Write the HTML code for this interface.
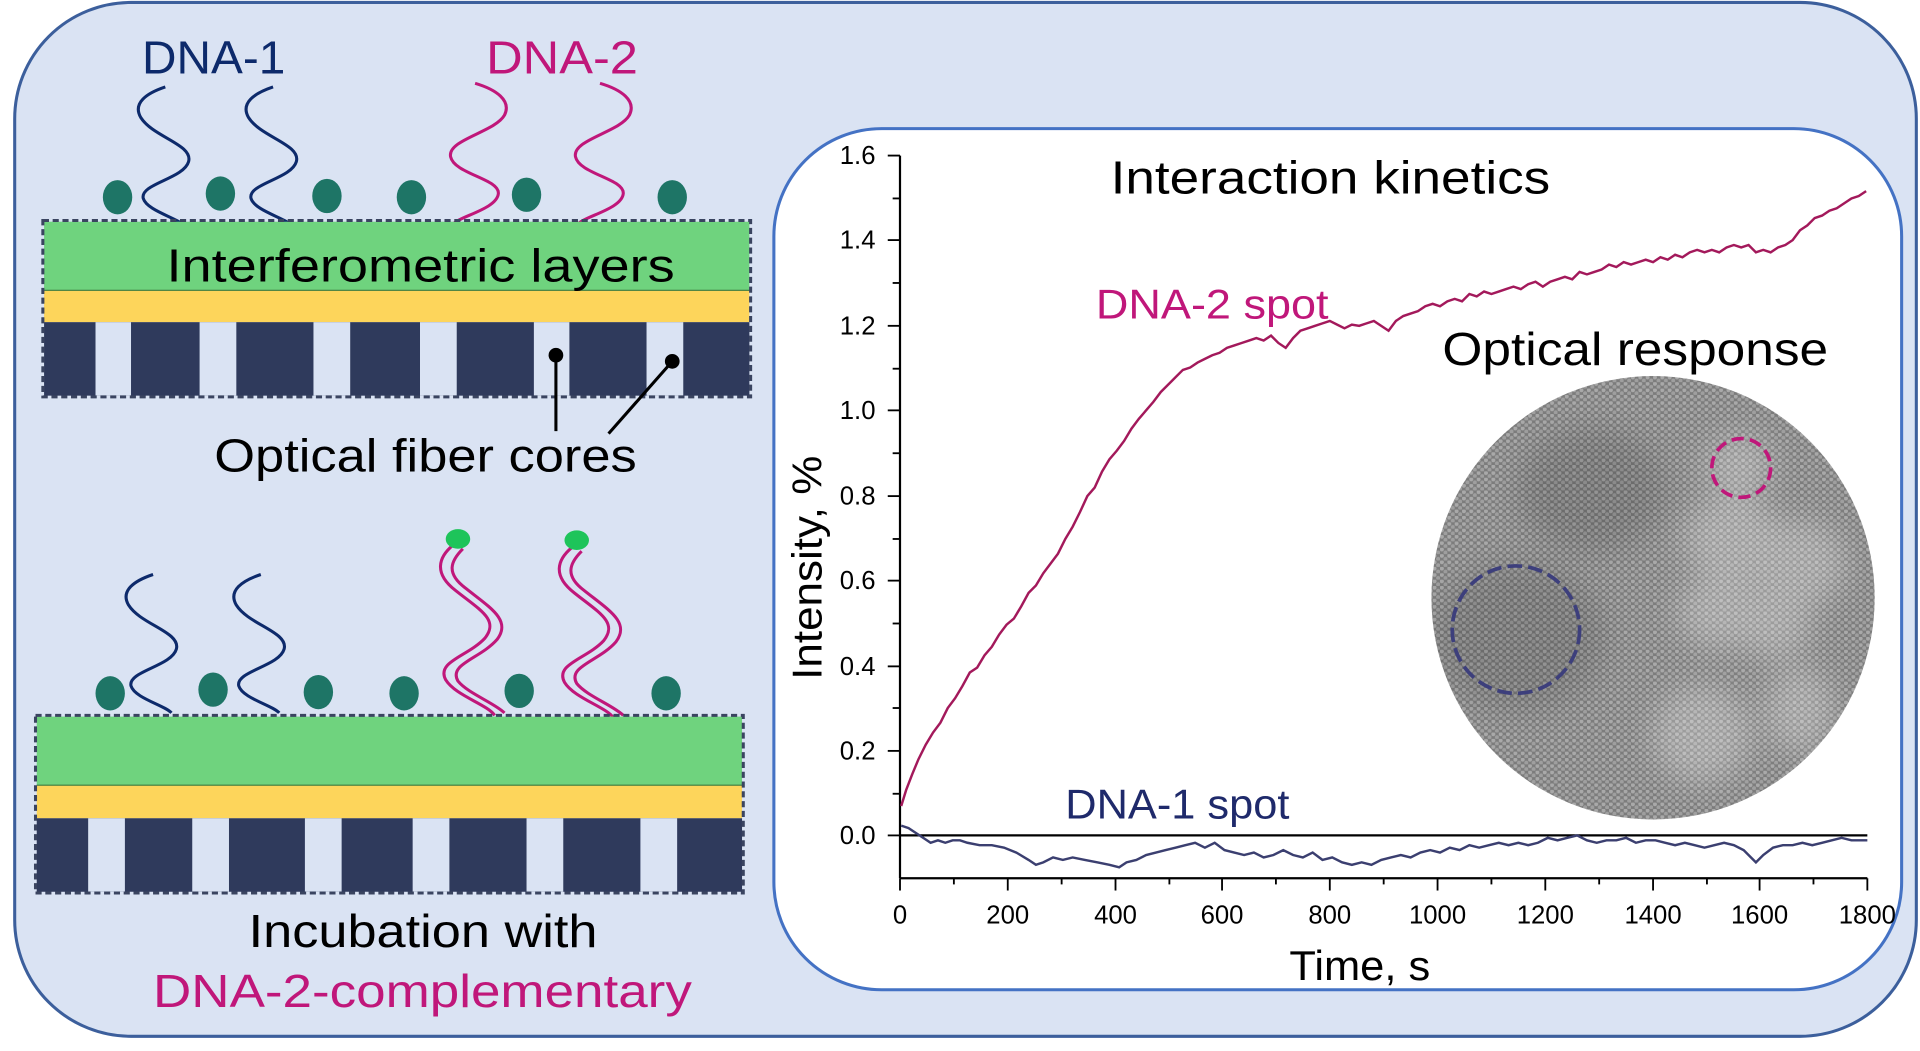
<!DOCTYPE html>
<html><head><meta charset="utf-8"><style>
html,body{margin:0;padding:0;background:#fff;}
svg{display:block;}
text{font-family:"Liberation Sans",sans-serif;}
</style></head><body>
<svg width="1920" height="1051" viewBox="0 0 1568 858" preserveAspectRatio="none" xmlns="http://www.w3.org/2000/svg">
<defs>
<pattern id="dots" width="6" height="5.2" patternUnits="userSpaceOnUse">
<rect width="6" height="5.2" fill="#7c7c7c"/>
<circle cx="1.5" cy="1.3" r="1.7" fill="#a9a9a9"/>
<circle cx="4.5" cy="3.9" r="1.7" fill="#9f9f9f"/>
</pattern>
<filter id="blur"><feGaussianBlur stdDeviation="12"/></filter>
<clipPath id="cc"><circle cx="1350" cy="488" r="181"/></clipPath>
</defs>
<rect x="0" y="0" width="1568" height="858" fill="#fff"/>
<rect x="12" y="2" width="1553" height="844" rx="95" fill="#dae3f3" stroke="#3c5f9c" stroke-width="2.5"/>
<rect x="632" y="105" width="921" height="703" rx="88" fill="#fff" stroke="#4472c4" stroke-width="2.5"/>

<!-- Top diagram -->
<text x="116" y="60" font-size="38" fill="#0d2a6b" textLength="117" lengthAdjust="spacingAndGlyphs">DNA-1</text>
<text x="397" y="60" font-size="38" fill="#c0177a" textLength="124" lengthAdjust="spacingAndGlyphs">DNA-2</text>
<g fill="#1e7566">
<ellipse cx="96" cy="161" rx="12" ry="14"/><ellipse cx="180" cy="158" rx="12" ry="14"/><ellipse cx="267" cy="160" rx="12" ry="14"/>
<ellipse cx="336" cy="161" rx="12" ry="14"/><ellipse cx="430" cy="159" rx="12" ry="14"/><ellipse cx="549" cy="161" rx="12" ry="14"/>
</g>
<g fill="none" stroke-width="2.5">
<path d="M135,71 C120,76 108,84 115,96 C125,112 158,118 154,132 C150,146 114,150 117,162 C120,172 145,178 150,184" stroke="#0d2a6b"/>
<path d="M135,71 C120,76 108,84 115,96 C125,112 158,118 154,132 C150,146 114,150 117,162 C120,172 145,178 150,184" stroke="#0d2a6b" transform="translate(88,0)"/>
<path d="M388,68 C405,73 418,82 412,94 C404,108 365,114 368,128 C371,142 408,146 407,158 C406,170 378,176 371,182" stroke="#c0177a"/>
<path d="M388,68 C405,73 418,82 412,94 C404,108 365,114 368,128 C371,142 408,146 407,158 C406,170 378,176 371,182" stroke="#c0177a" transform="translate(102,0)"/>
</g>
<rect x="36" y="181" width="576" height="56" fill="#6fd37e"/>
<rect x="36" y="237" width="576" height="26" fill="#fdd55b"/>
<line x1="36" y1="237" x2="612" y2="237" stroke="#3a7a40" stroke-width="1"/>
<rect x="36" y="263" width="576" height="60" fill="#2f3a5c"/>
<g fill="#dae3f3">
<rect x="78" y="263" width="29" height="60"/><rect x="163" y="263" width="30" height="60"/><rect x="256" y="263" width="30" height="60"/>
<rect x="343" y="263" width="30" height="60"/><rect x="436" y="263" width="29" height="60"/><rect x="528" y="263" width="30" height="60"/>
</g>
<rect x="35" y="180" width="578" height="144" fill="none" stroke="#3a4460" stroke-width="2.5" stroke-dasharray="5,3"/>
<text x="136" y="230" font-size="38" fill="#000" textLength="415" lengthAdjust="spacingAndGlyphs">Interferometric layers</text>
<circle cx="454" cy="290" r="6" fill="#000"/><line x1="454" y1="290" x2="454" y2="352" stroke="#000" stroke-width="2.5"/>
<circle cx="549" cy="295" r="6" fill="#000"/><line x1="549" y1="295" x2="497" y2="354" stroke="#000" stroke-width="2.5"/>
<text x="175" y="385" font-size="38" fill="#000" textLength="345" lengthAdjust="spacingAndGlyphs">Optical fiber cores</text>

<!-- Bottom diagram -->
<g fill="#1e7566">
<ellipse cx="90" cy="566" rx="12" ry="14"/><ellipse cx="174" cy="563" rx="12" ry="14"/><ellipse cx="260" cy="565" rx="12" ry="14"/>
<ellipse cx="330" cy="566" rx="12" ry="14"/><ellipse cx="424" cy="564" rx="12" ry="14"/><ellipse cx="544" cy="566" rx="12" ry="14"/>
</g>
<g fill="none" stroke-width="2.5">
<path d="M135,71 C120,76 108,84 115,96 C125,112 158,118 154,132 C150,146 114,150 117,162 C120,172 145,178 150,184" stroke="#0d2a6b" transform="translate(-10,398)"/>
<path d="M135,71 C120,76 108,84 115,96 C125,112 158,118 154,132 C150,146 114,150 117,162 C120,172 145,178 150,184" stroke="#0d2a6b" transform="translate(78,398)"/>
<path d="M370,445 C358,455 354,468 372,482 C392,498 408,506 396,521 C382,536 356,540 364,555 C372,568 398,575 404,584" stroke="#c0177a"/>
<path d="M378,448 C368,458 364,468 380,480 C400,496 418,506 406,522 C392,538 366,542 374,556 C382,566 404,574 412,582" stroke="#c0177a"/>
<path d="M370,445 C358,455 354,468 372,482 C392,498 408,506 396,521 C382,536 356,540 364,555 C372,568 398,575 404,584" stroke="#c0177a" transform="translate(97,2)"/>
<path d="M378,448 C368,458 364,468 380,480 C400,496 418,506 406,522 C392,538 366,542 374,556 C382,566 404,574 412,582" stroke="#c0177a" transform="translate(97,2)"/>
</g>
<ellipse cx="374" cy="440" rx="10" ry="8" fill="#1ec45a"/>
<ellipse cx="471" cy="441" rx="10" ry="8" fill="#1ec45a"/>
<rect x="30" y="585" width="576" height="56" fill="#6fd37e"/>
<rect x="30" y="641" width="576" height="27" fill="#fdd55b"/>
<line x1="30" y1="641" x2="606" y2="641" stroke="#3a7a40" stroke-width="1"/>
<rect x="30" y="668" width="576" height="60" fill="#2f3a5c"/>
<g fill="#dae3f3">
<rect x="72" y="668" width="30" height="60"/><rect x="157" y="668" width="30" height="60"/><rect x="249" y="668" width="30" height="60"/>
<rect x="337" y="668" width="30" height="60"/><rect x="430" y="668" width="30" height="60"/><rect x="523" y="668" width="30" height="60"/>
</g>
<rect x="29" y="584" width="578" height="145" fill="none" stroke="#3a4460" stroke-width="2.5" stroke-dasharray="5,3"/>
<text x="203" y="773" font-size="38" fill="#000" textLength="285" lengthAdjust="spacingAndGlyphs">Incubation with</text>
<text x="125" y="822" font-size="38" fill="#c0177a" textLength="440" lengthAdjust="spacingAndGlyphs">DNA-2-complementary</text>

<!-- Chart -->
<g stroke="#000" stroke-width="1.8" fill="none">
<line x1="735" y1="127" x2="735" y2="717"/>
<line x1="735" y1="717" x2="1525" y2="717"/>
<line x1="735" y1="682" x2="1525" y2="682"/>
</g>
<g stroke="#000" stroke-width="1.5">
<line x1="725" y1="127" x2="735" y2="127"/><line x1="725" y1="196" x2="735" y2="196"/><line x1="725" y1="266" x2="735" y2="266"/>
<line x1="725" y1="335" x2="735" y2="335"/><line x1="725" y1="405" x2="735" y2="405"/><line x1="725" y1="474" x2="735" y2="474"/>
<line x1="725" y1="544" x2="735" y2="544"/><line x1="725" y1="613" x2="735" y2="613"/><line x1="725" y1="682" x2="735" y2="682"/>
<line x1="729" y1="162" x2="735" y2="162"/><line x1="729" y1="231" x2="735" y2="231"/><line x1="729" y1="301" x2="735" y2="301"/>
<line x1="729" y1="370" x2="735" y2="370"/><line x1="729" y1="440" x2="735" y2="440"/><line x1="729" y1="509" x2="735" y2="509"/>
<line x1="729" y1="578" x2="735" y2="578"/><line x1="729" y1="648" x2="735" y2="648"/>
<line x1="735" y1="717" x2="735" y2="727"/><line x1="823" y1="717" x2="823" y2="727"/><line x1="911" y1="717" x2="911" y2="727"/>
<line x1="998" y1="717" x2="998" y2="727"/><line x1="1086" y1="717" x2="1086" y2="727"/><line x1="1174" y1="717" x2="1174" y2="727"/>
<line x1="1262" y1="717" x2="1262" y2="727"/><line x1="1350" y1="717" x2="1350" y2="727"/><line x1="1437" y1="717" x2="1437" y2="727"/>
<line x1="1525" y1="717" x2="1525" y2="727"/>
<line x1="779" y1="717" x2="779" y2="722"/><line x1="867" y1="717" x2="867" y2="722"/><line x1="955" y1="717" x2="955" y2="722"/>
<line x1="1042" y1="717" x2="1042" y2="722"/><line x1="1130" y1="717" x2="1130" y2="722"/><line x1="1218" y1="717" x2="1218" y2="722"/>
<line x1="1306" y1="717" x2="1306" y2="722"/><line x1="1394" y1="717" x2="1394" y2="722"/><line x1="1481" y1="717" x2="1481" y2="722"/>
</g>
<g font-size="21" fill="#000" text-anchor="end">
<text x="715" y="134">1.6</text><text x="715" y="203">1.4</text><text x="715" y="273">1.2</text><text x="715" y="342">1.0</text>
<text x="715" y="412">0.8</text><text x="715" y="481">0.6</text><text x="715" y="551">0.4</text><text x="715" y="620">0.2</text><text x="715" y="689">0.0</text>
</g>
<g font-size="21" fill="#000" text-anchor="middle">
<text x="735" y="754">0</text><text x="823" y="754">200</text><text x="911" y="754">400</text><text x="998" y="754">600</text>
<text x="1086" y="754">800</text><text x="1174" y="754">1000</text><text x="1262" y="754">1200</text><text x="1350" y="754">1400</text>
<text x="1437" y="754">1600</text><text x="1525" y="754">1800</text>
</g>
<text x="1053" y="800" font-size="34" fill="#000" textLength="115" lengthAdjust="spacingAndGlyphs">Time, s</text>
<text transform="translate(671,555) rotate(-90)" font-size="34" fill="#000" textLength="183" lengthAdjust="spacingAndGlyphs">Intensity, %</text>
<text x="907" y="158" font-size="38" fill="#000" textLength="359" lengthAdjust="spacingAndGlyphs">Interaction kinetics</text>
<text x="895" y="260" font-size="34" fill="#c0177a" textLength="190" lengthAdjust="spacingAndGlyphs">DNA-2 spot</text>
<text x="1178" y="298" font-size="38" fill="#000" textLength="315" lengthAdjust="spacingAndGlyphs">Optical response</text>
<text x="870" y="668" font-size="34" fill="#1f2a6b" textLength="183" lengthAdjust="spacingAndGlyphs">DNA-1 spot</text>

<polyline fill="none" stroke="#a3195b" stroke-width="2" points="736,658 740,645 745,632 750,620 756,608 762,598 768,590 774,578 780,570 786,560 792,549 798,545 804,535 810,528 816,518 822,510 828,505 834,495 840,484 846,478 852,468 858,460 864,452 870,440 876,430 882,418 888,405 894,398 900,385 906,375 912,368 918,360 924,350 930,342 936,335 942,328 948,320 954,314 960,308 966,302 972,300 978,296 984,293 990,290 996,288 1002,284 1008,282 1014,280 1020,278 1026,276 1032,278 1038,274 1044,280 1050,284 1056,276 1062,270 1068,268 1074,266 1080,264 1086,262 1092,265 1098,268 1104,265 1110,266 1116,264 1122,262 1128,266 1134,270 1140,262 1146,258 1152,256 1158,254 1164,250 1170,248 1176,250 1182,246 1188,244 1194,246 1200,240 1206,242 1212,238 1218,240 1224,238 1230,236 1236,234 1242,236 1248,232 1254,230 1260,234 1266,230 1272,228 1278,226 1284,228 1290,222 1296,224 1302,222 1308,220 1314,216 1320,218 1326,214 1332,216 1338,214 1344,212 1350,214 1356,210 1362,212 1368,208 1374,210 1380,206 1386,204 1392,206 1398,204 1404,206 1410,202 1416,200 1422,202 1428,200 1434,206 1440,204 1446,206 1452,202 1458,200 1464,196 1470,188 1476,184 1482,178 1488,176 1494,172 1500,170 1506,166 1512,162 1518,160 1524,156"/>
<polyline fill="none" stroke="#3b3f70" stroke-width="2" points="736,674 742,676 748,680 754,684 760,688 766,686 772,688 778,686 784,686 790,688 800,690 810,690 820,692 830,696 840,702 846,706 852,704 860,700 868,702 876,700 886,702 896,704 906,706 914,708 920,704 928,702 936,698 944,696 952,694 960,692 968,690 976,688 984,692 992,688 1000,694 1008,696 1016,698 1024,696 1032,700 1040,698 1048,694 1056,698 1064,700 1072,696 1080,702 1088,700 1096,704 1104,706 1112,704 1120,706 1128,702 1136,700 1144,698 1152,700 1160,696 1168,694 1176,696 1184,692 1192,694 1200,690 1208,692 1216,690 1224,688 1232,690 1240,688 1248,690 1256,688 1264,684 1272,686 1280,684 1288,682 1296,686 1304,688 1312,686 1320,686 1328,684 1336,688 1344,686 1352,686 1360,688 1368,690 1376,688 1384,690 1392,692 1400,690 1408,688 1416,690 1424,694 1430,700 1434,704 1440,698 1448,692 1456,690 1464,690 1472,688 1480,690 1488,688 1496,686 1504,684 1512,686 1520,686 1525,686"/>

<!-- Optical response image -->
<circle cx="1350" cy="488" r="181" fill="url(#dots)"/>
<g clip-path="url(#cc)">
<g fill="#ffffff" opacity="0.25" filter="url(#blur)">
<ellipse cx="1415" cy="440" rx="40" ry="35"/>
<ellipse cx="1470" cy="460" rx="38" ry="35"/>
<ellipse cx="1405" cy="500" rx="35" ry="30"/>
<ellipse cx="1450" cy="510" rx="30" ry="28"/>
<ellipse cx="1420" cy="380" rx="28" ry="26"/>
<ellipse cx="1390" cy="600" rx="40" ry="40"/>
<ellipse cx="1470" cy="580" rx="28" ry="35"/>
</g>
<g fill="#000" opacity="0.12" filter="url(#blur)">
<ellipse cx="1240" cy="520" rx="70" ry="60"/>
<ellipse cx="1300" cy="400" rx="60" ry="50"/>
</g>
</g>
<circle cx="1422" cy="382" r="24" fill="none" stroke="#c0177a" stroke-width="3" stroke-dasharray="10,5"/>
<circle cx="1238" cy="514" r="52" fill="none" stroke="#3d3f7c" stroke-width="3" stroke-dasharray="12,5"/>
</svg>
</body></html>
